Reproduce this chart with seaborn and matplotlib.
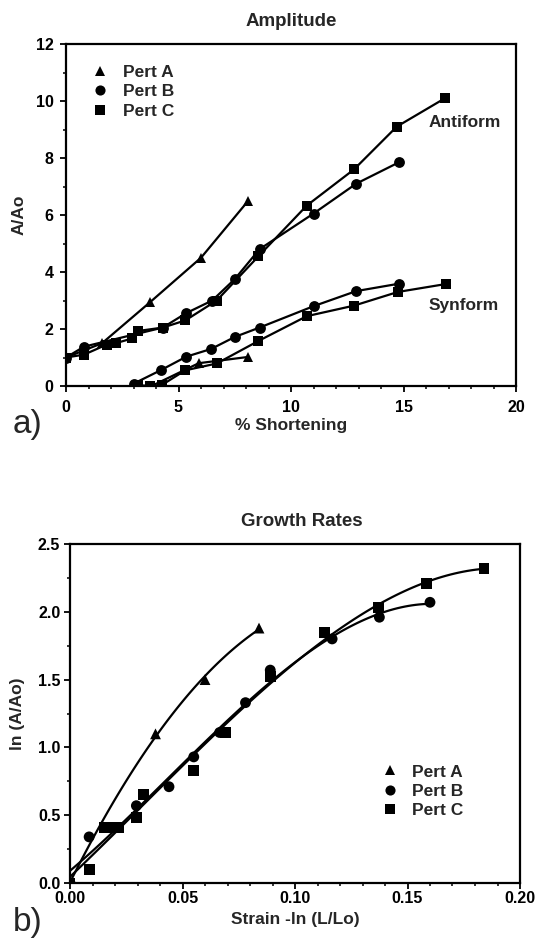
import matplotlib
matplotlib.use("Agg")
import matplotlib.pyplot as plt
from matplotlib.lines import Line2D
from matplotlib.ticker import MultipleLocator
import numpy as np
import pandas as pd
import seaborn as sns

sns.set_theme(style="white")
plt.rcParams['font.family'] = ['Liberation Sans', 'DejaVu Sans']
plt.rcParams['font.weight'] = 'bold'

# ---------------- (a) Amplitude data ----------------
a_anti_x = [0.0, 1.6, 3.75, 6.0, 8.1]
a_anti_y = [1.0, 1.5, 2.95, 4.5, 6.5]
b_anti_x = [0.0, 0.8, 4.3, 5.35, 6.5, 7.5, 8.6, 11.0, 12.9, 14.8]
b_anti_y = [1.0, 1.38, 2.05, 2.56, 3.0, 3.75, 4.8, 6.05, 7.1, 7.85]
c_anti_x = [0.0, 0.8, 1.8, 2.2, 2.95, 3.2, 4.3, 5.3, 6.7, 8.55, 10.7, 12.8, 14.7, 16.85]
c_anti_y = [1.0, 1.1, 1.45, 1.5, 1.67, 1.93, 2.05, 2.3, 3.0, 4.55, 6.33, 7.6, 9.1, 10.1]

a_syn_x = [3.8, 5.9, 8.1]
a_syn_y = [0.0, 0.8, 1.02]
b_syn_x = [3.0, 4.2, 5.35, 6.45, 7.5, 8.6, 11.0, 12.9, 14.8]
b_syn_y = [0.08, 0.55, 1.03, 1.3, 1.72, 2.05, 2.8, 3.33, 3.59]
c_syn_x = [3.2, 3.75, 4.25, 5.3, 6.7, 8.55, 10.7, 12.8, 14.75, 16.9]
c_syn_y = [0.03, 0.0, 0.03, 0.55, 0.79, 1.58, 2.45, 2.82, 3.3, 3.58]

# ---------------- (b) Growth rate data ----------------
gA_x = [0.0, 0.038, 0.060, 0.084]
gA_y = [0.0, 1.10, 1.50, 1.88]
gB_x = [0.0, 0.0085, 0.0295, 0.044, 0.055, 0.0665, 0.078, 0.089, 0.1165, 0.1375, 0.16]
gB_y = [0.0, 0.34, 0.57, 0.71, 0.93, 1.11, 1.33, 1.57, 1.80, 1.96, 2.07]
gC_x = [0.0, 0.0085, 0.0155, 0.0185, 0.0215, 0.0295, 0.0325, 0.055, 0.069, 0.089, 0.113, 0.137, 0.1585, 0.184]
gC_y = [0.0, 0.10, 0.41, 0.41, 0.41, 0.48, 0.65, 0.83, 1.11, 1.52, 1.85, 2.03, 2.21, 2.32]

series_names = ["Pert A", "Pert B", "Pert C"]
markers = {"Pert A": "^", "Pert B": "o", "Pert C": "s"}

W, H = 536, 938
fig = plt.figure(figsize=(W / 100, H / 100), dpi=100)
ax1 = fig.add_axes([66 / W, 1 - 386 / H, 450 / W, 342 / H])
ax2 = fig.add_axes([70 / W, 1 - 883 / H, 450 / W, 339 / H])

ms = 7.8
lw = 1.6

amp = [
    ("Pert A", a_anti_x, a_anti_y), ("Pert B", b_anti_x, b_anti_y), ("Pert C", c_anti_x, c_anti_y),
    ("Pert A", a_syn_x, a_syn_y), ("Pert B", b_syn_x, b_syn_y), ("Pert C", c_syn_x, c_syn_y),
]
for name, xs, ys in amp:
    df = pd.DataFrame({"x": xs, "y": ys})
    sns.lineplot(data=df, x="x", y="y", ax=ax1, color="black", lw=lw, sort=False,
                 estimator=None, marker=markers[name], markersize=ms,
                 markeredgewidth=0, markerfacecolor="black")

growth = [("Pert A", gA_x, gA_y, 2), ("Pert B", gB_x, gB_y, 3), ("Pert C", gC_x, gC_y, 3)]
for name, xs, ys, order in growth:
    df = pd.DataFrame({"x": xs, "y": ys})
    sns.regplot(data=df, x="x", y="y", ax=ax2, order=order, ci=None, truncate=True,
                scatter=False, line_kws=dict(color="black", lw=lw))
    sns.scatterplot(data=df, x="x", y="y", ax=ax2, marker=markers[name], color="black",
                    s=ms ** 2, edgecolor="none", linewidth=0, zorder=3)

tick_fs = 11.5
lab_fs = 12.5
title_fs = 13.5

for ax in (ax1, ax2):
    for sp in ax.spines.values():
        sp.set_visible(True)
        sp.set_color("black")
        sp.set_linewidth(1.6)
    ax.tick_params(which="major", direction="out", length=4, width=1.3, colors="black",
                   labelsize=tick_fs, left=True, bottom=True)
    ax.tick_params(which="minor", direction="out", length=2.5, width=1.1, colors="black",
                   left=True, bottom=True)

ax1.set_xlim(0, 20)
ax1.set_ylim(0, 12)
ax1.xaxis.set_minor_locator(MultipleLocator(1))
ax1.yaxis.set_minor_locator(MultipleLocator(1))
ax1.set_xticks([0, 5, 10, 15, 20])
ax1.set_xticklabels(["0", "5", "10", "15", "20"], fontweight="bold", fontsize=tick_fs)
ax1.set_yticks([0, 2, 4, 6, 8, 10, 12])
ax1.set_yticklabels(["0", "2", "4", "6", "8", "10", "12"], fontweight="bold", fontsize=tick_fs)
ax1.tick_params(axis="x", which="major", pad=6)
ax1.tick_params(axis="y", which="major", pad=5)
ax1.set_xlabel("% Shortening", fontsize=lab_fs, fontweight="bold")
ax1.set_ylabel("A/Ao", fontsize=lab_fs, fontweight="bold")
ax1.xaxis.set_label_coords(0.5, -0.095)
ax1.yaxis.set_label_coords(-0.088, 0.5)
ax1.set_title("Amplitude", fontsize=title_fs, fontweight="bold", pad=13)
ax1.text(16.1, 9.24, "Antiform", fontsize=lab_fs, fontweight="bold", ha="left", va="center")
ax1.text(16.1, 2.83, "Synform", fontsize=lab_fs, fontweight="bold", ha="left", va="center")

ax2.set_xlim(0, 0.2)
ax2.set_ylim(0, 2.5)
ax2.xaxis.set_minor_locator(MultipleLocator(0.01))
ax2.yaxis.set_minor_locator(MultipleLocator(0.25))
ax2.set_xticks([0, 0.05, 0.10, 0.15, 0.20])
ax2.set_xticklabels(["0.00", "0.05", "0.10", "0.15", "0.20"], fontweight="bold", fontsize=tick_fs)
ax2.set_yticks([0, 0.5, 1.0, 1.5, 2.0, 2.5])
ax2.set_yticklabels(["0.0", "0.5", "1.0", "1.5", "2.0", "2.5"], fontweight="bold", fontsize=tick_fs)
ax2.tick_params(axis="x", which="major", pad=2)
ax2.tick_params(axis="y", which="major", pad=3)
ax2.set_xlabel("Strain -ln (L/Lo)", fontsize=lab_fs, fontweight="bold")
ax2.set_ylabel("ln (A/Ao)", fontsize=lab_fs, fontweight="bold")
ax2.xaxis.set_label_coords(0.5, -0.085)
ax2.yaxis.set_label_coords(-0.1, 0.5)
ax2.set_title("Growth Rates", fontsize=title_fs, fontweight="bold", pad=13, x=0.515)

handles = [Line2D([], [], ls="none", marker=markers[n], color="black", markersize=ms - 0.5,
                  markeredgewidth=0) for n in series_names]
leg_kw = dict(frameon=False, handlelength=0.8, handletextpad=0.9, labelspacing=0.25,
              borderaxespad=0, borderpad=0, prop=dict(weight="bold", size=lab_fs))
ax1.legend(handles, series_names, loc="upper left", bbox_to_anchor=(0.06, 0.94), **leg_kw)
ax2.legend(handles, series_names, loc="upper left", bbox_to_anchor=(0.695, 0.35), **leg_kw)

fig.text(13 / W, 1 - 433 / H, "a)", fontsize=24, fontweight="normal", ha="left", va="baseline")
fig.text(13 / W, 1 - 931 / H, "b)", fontsize=24, fontweight="normal", ha="left", va="baseline")

fig.savefig("out.png", dpi=100)
